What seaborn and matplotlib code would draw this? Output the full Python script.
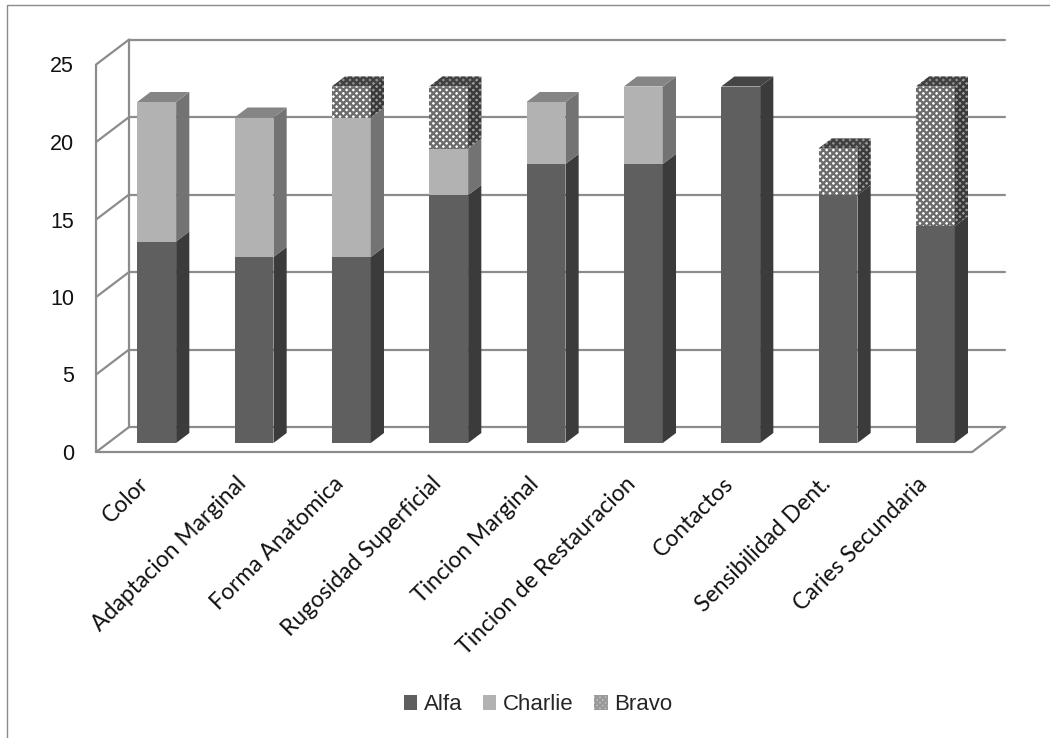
import numpy as np
import pandas as pd
import matplotlib
matplotlib.use("Agg")
import matplotlib.pyplot as plt
import matplotlib.transforms as mtransforms
from matplotlib.patches import Polygon, Rectangle, Patch
import seaborn as sns

# ---- data ----
categories = ["Color", "Adaptacion Marginal", "Forma Anatomica", "Rugosidad Superficial",
              "Tincion Marginal", "Tincion de Restauracion", "Contactos",
              "Sensibilidad Dent.", "Caries Secundaria"]
alfa = [13, 12, 12, 16, 18, 18, 23, 16, 14]
charlie = [9, 9, 9, 3, 4, 5, 0, 0, 0]
bravo = [0, 0, 2, 4, 0, 0, 0, 3, 9]
series_names = ["Alfa", "Charlie", "Bravo"]
y_ticks = [0, 5, 10, 15, 20, 25]

# ---- styling ----
W, H, DPI = 1050, 738, 100
sns.set_theme(style="white")
plt.rcParams["font.family"] = ["Lato", "DejaVu Sans"]
plt.rcParams["hatch.linewidth"] = 1.7

FRONT = {"Alfa": "#5f5f5f", "Charlie": "#b2b2b2", "Bravo": "#ffffff"}
SIDE = {"Alfa": "#3b3b3b", "Charlie": "#737373", "Bravo": "#a0a0a0"}
TOP = {"Alfa": "#454545", "Charlie": "#858585", "Bravo": "#909090"}
HATCH = "xxxxx"
HATCH_COL = {"front": "#6c6c6c", "side": "#3a3a3a", "top": "#404040"}
WALL = "#8c8c8c"
BAR_W = 0.4
SANS = ["Liberation Sans", "DejaVu Sans"]

fig = plt.figure(figsize=(W / DPI, H / DPI), dpi=DPI)
fig.patch.set_facecolor("white")

# plot area of the bars' front plane, in pixels
ax_left, ax_right, ax_bottom, ax_top = 108, 984, 443, 55.5
ax = fig.add_axes([ax_left / W, (H - ax_bottom) / H,
                   (ax_right - ax_left) / W, (ax_bottom - ax_top) / H])

df = pd.DataFrame({"category": categories, "Alfa": alfa,
                   "Charlie": charlie, "Bravo": bravo})
df["lvl1"] = df["Alfa"]
df["lvl2"] = df["Alfa"] + df["Charlie"]
df["lvl3"] = df["lvl2"] + df["Bravo"]

# stacked front faces, drawn from the full total down to the first series
sns.barplot(data=df, x="category", y="lvl3", order=categories, color=FRONT["Bravo"],
            saturation=1, width=BAR_W, hatch=HATCH, edgecolor=HATCH_COL["front"],
            linewidth=0, ax=ax, zorder=3)
sns.barplot(data=df, x="category", y="lvl2", order=categories, color=FRONT["Charlie"],
            saturation=1, width=BAR_W, linewidth=0, ax=ax, zorder=3)
sns.barplot(data=df, x="category", y="lvl1", order=categories, color=FRONT["Alfa"],
            saturation=1, width=BAR_W, linewidth=0, ax=ax, zorder=3)

ax.set_xlim(-0.5, len(categories) - 0.5)
ax.set_ylim(0, 25)
for s in ax.spines.values():
    s.set_visible(False)
ax.set_xlabel("")
ax.set_ylabel("")
ax.patch.set_alpha(0)

# pixel offsets -> data offsets for the oblique depth axis
o = ax.transData.transform((0, 0))
inv = ax.transData.inverted()


def px(dx, dy):
    return inv.transform(o + np.array([dx, dy]))


DEPTH = np.array([33.0, 25.0])   # full floor depth, front to back
F0 = 0.36                        # bars' front plane position within the depth
BAR_D = 0.40                     # bar depth
fx, fy = px(*(-F0 * DEPTH))
bx, by = px(*((1 - F0) * DEPTH))
dx, dy = px(*(BAR_D * DEPTH))

x0, x1 = -0.5, len(categories) - 0.5
line_kw = dict(color=WALL, lw=1.6, solid_capstyle="round", clip_on=False)

# back wall gridlines and left wall
for v in y_ticks:
    ax.plot([x0 + bx, x1 + bx], [v + by, v + by], zorder=1, **line_kw)
    ax.plot([x0 + fx, x0 + bx], [v + fy, v + by], zorder=1, **line_kw)
ax.plot([x0 + fx, x0 + fx], [fy, y_ticks[-1] + fy], zorder=1, **line_kw)
ax.plot([x0 + bx, x0 + bx], [by, y_ticks[-1] + by], zorder=1, **line_kw)
# floor
ax.plot([x0 + fx, x1 + fx], [fy, fy], zorder=1, **line_kw)
ax.plot([x1 + fx, x1 + bx], [fy, by], zorder=1, **line_kw)

# side and top faces of each stacked bar
bars = ax.containers[-1]
for i, p in enumerate(bars.patches):
    xl = p.get_x()
    xr = xl + p.get_width()
    segs = [("Alfa", 0, df["lvl1"][i]),
            ("Charlie", df["lvl1"][i], df["lvl2"][i]),
            ("Bravo", df["lvl2"][i], df["lvl3"][i])]
    top_name = None
    for name, b, t in segs:
        if t <= b:
            continue
        top_name = name
        hatch = HATCH if name == "Bravo" else None
        ax.add_patch(Polygon([(xr, b), (xr, t), (xr + dx, t + dy), (xr + dx, b + dy)],
                             closed=True, facecolor=SIDE[name], hatch=hatch,
                             edgecolor=HATCH_COL["side"] if hatch else SIDE[name],
                             linewidth=0, zorder=3, clip_on=False))
    t = df["lvl3"][i]
    hatch = HATCH if top_name == "Bravo" else None
    ax.add_patch(Polygon([(xl, t), (xr, t), (xr + dx, t + dy), (xl + dx, t + dy)],
                         closed=True, facecolor=TOP[top_name], hatch=hatch,
                         edgecolor=HATCH_COL["top"] if hatch else TOP[top_name],
                         linewidth=0, zorder=3, clip_on=False))

# ticks: value labels sit on the front edge of the left wall
ax.set_yticks(y_ticks)
ax.tick_params(axis="y", length=0, pad=16, labelcolor="#111111")
ax.tick_params(axis="x", length=0, pad=27, labelcolor="#111111")
for lab in ax.get_yticklabels():
    lab.set_fontfamily(SANS)
    lab.set_fontsize(15.5)
ax.set_xticks(range(len(categories)))
ax.set_xticklabels(categories, rotation=45, ha="right", va="center",
                   rotation_mode="anchor", fontsize=16.5)
shift_y = mtransforms.Affine2D().translate(-F0 * DEPTH[0], -F0 * DEPTH[1])
for lab in ax.get_yticklabels():
    lab.set_transform(lab.get_transform() + shift_y)
shift_x = mtransforms.Affine2D().translate(-11, 0)
for lab in ax.get_xticklabels():
    lab.set_transform(lab.get_transform() + shift_x)

# legend
handles = [Patch(facecolor=FRONT["Alfa"], edgecolor=FRONT["Alfa"], linewidth=0),
           Patch(facecolor=FRONT["Charlie"], edgecolor=FRONT["Charlie"], linewidth=0),
           Patch(facecolor="#c8c8c8", hatch="xxxxxx", edgecolor="#9a9a9a", linewidth=0)]
fig.legend(handles, series_names, loc="center", bbox_to_anchor=(538 / W, (H - 705) / H),
           ncol=3, frameon=False, prop={"family": SANS, "size": 16},
           handlelength=0.62, handleheight=0.62, handletextpad=0.3, columnspacing=0.9)

# outer chart border
fig.add_artist(Rectangle((7 / W, -0.1), 1.2, (H - 5) / H + 0.1,
                         transform=fig.transFigure, fill=False,
                         edgecolor="#8a8a8a", linewidth=1.0))

fig.savefig("out.png", dpi=DPI, facecolor="white")
